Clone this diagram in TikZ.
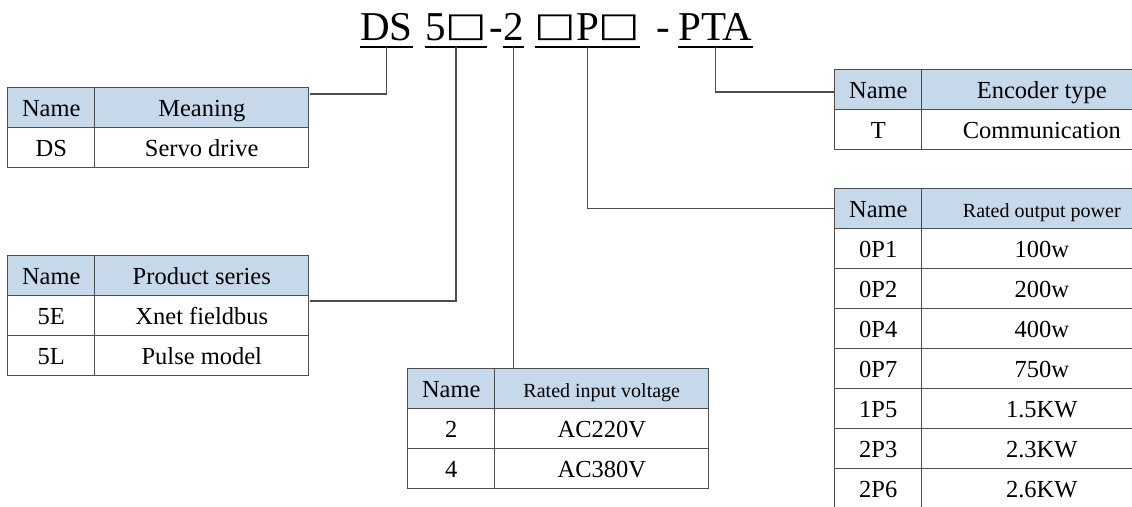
\documentclass[tikz,border=0pt]{standalone}
\usepackage{fontspec}
\setmainfont{Liberation Serif}
\newfontfamily\boxfont{DejaVu Sans}
\usetikzlibrary{matrix}
\definecolor{hdrblue}{RGB}{198,217,235}
\definecolor{rulegray}{RGB}{77,77,77}
\newcommand{\tabfont}{\fontsize{24.5pt}{28pt}\selectfont}
\newcommand{\tabsmall}{\fontsize{20pt}{24pt}\selectfont}
\newcommand{\codefont}{\fontsize{41pt}{46pt}\selectfont}
\newcommand{\sq}{\makebox[1em]{\raisebox{3.5pt}{\scalebox{1.07}[0.82]{\boxfont □}}}}

\begin{document}
\begin{tikzpicture}[x=1pt,y=-1pt]
        \tikzset{code/.style={font=\codefont, inner sep=0pt, text depth=7pt, anchor=base west},
            tab/.style={matrix of nodes, anchor=north west, inner sep=0pt,
                row sep=-1.2pt, column sep=-1.2pt,
                nodes={draw=rulegray, line width=1.2pt, font=\tabfont, anchor=center,
                    inner sep=0pt, minimum height=40pt, text height=22pt, text depth=4pt},
                column 1/.style={nodes={minimum width=87pt}},
                column 2/.style={nodes={minimum width=#1}},
                row 1/.style={nodes={fill=hdrblue}}},
            uline/.style={draw, line width=1.5pt},
            link/.style={draw=rulegray, line width=1.2pt}}
        \useasboundingbox (0,0) rectangle (1132,506);
        % model code
        \node[code] (cDS) at (360,40) {DS};
        \node[code] (c5) at (425,40) {5\sq};
        \node[code] (dash1) at (489,40) {-};
        \node[code] (c2) at (503,40) {2};
        \node[code] (cP) at (535,40) {\sq P\sq};
        \node[code] (dash2) at (656,40) {-};
        \node[code] (cPTA) at (678,40) {PTA};
        \foreach \c in {cDS,c5,c2,cP,cPTA}
            \draw[uline] (\c.south west) -- (\c.south east);
        % tables
        \matrix (tDS) [tab=214pt] at (7,87) {
            Name & Meaning \\
            DS & Servo drive \\
        };
        \matrix (tSer) [tab=214pt] at (7,255) {
            Name & Product series \\
            5E & Xnet fieldbus \\
            5L & Pulse model \\
        };
        \matrix (tVol) [tab=214pt] at (407,368) {
            Name & |[font=\tabsmall]| Rated input voltage \\
            2 & AC220V \\
            4 & AC380V \\
        };
        \matrix (tEnc) [tab=240pt] at (834,69) {
            Name & Encoder type \\
            T & Communication \\
        };
        \matrix (tPow) [tab=240pt] at (834,188) {
            Name & |[font=\tabsmall]| Rated output power \\
            0P1 & 100w \\
            0P2 & 200w \\
            0P4 & 400w \\
            0P7 & 750w \\
            1P5 & 1.5KW \\
            2P3 & 2.3KW \\
            2P6 & 2.6KW \\
        };
        % links
        \draw[link] (cDS.south) |- ([yshift=-7pt]tDS.north east);
        \draw[link] (c5.south) |- ([yshift=-46pt]tSer.north east);
        \draw[link] (c2.south) -- (c2.south |- tVol.north);
        \draw[link] (cP.south) |- (tPow-1-1.west);
        \draw[link] (cPTA.south) |- ([yshift=-23pt]tEnc.north west);
\end{tikzpicture}
\end{document}
